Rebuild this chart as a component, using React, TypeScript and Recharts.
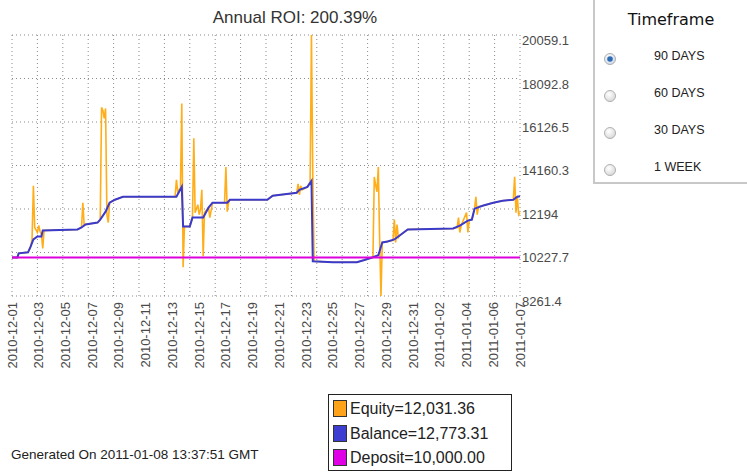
import React from "react";
import { LineChart, Line, XAxis, YAxis, CartesianGrid } from "recharts";

const TITLE = "Annual ROI: 200.39%";
const GENERATED = "Generated On 2011-01-08 13:37:51 GMT";

// date labels sit every 20 samples, the dotted grid every 19
const DATE_LABELS = [
    "2010-12-01", "2010-12-03", "2010-12-05", "2010-12-07", "2010-12-09",
    "2010-12-11", "2010-12-13", "2010-12-15", "2010-12-17", "2010-12-19",
    "2010-12-21", "2010-12-23", "2010-12-25", "2010-12-27", "2010-12-29",
    "2010-12-31", "2011-01-02", "2011-01-04", "2011-01-06", "2011-01-07",
];
const LABEL_STEP = 20;
const GRID_STEP = 19;
const GRID_LINES = 21;
const LAST_SAMPLE = 380;
const Y_TICKS = [8261.4, 10227.7, 12194, 14160.3, 16126.5, 18092.8, 20059.1];

const BALANCE_T = [
    0, 4, 5, 12, 14, 16, 19, 22, 23, 49, 52, 55, 64, 66, 70, 73, 77, 83, 123, 127,
    128, 133, 135, 143, 147, 150, 161, 163, 191, 195, 213, 215, 221, 224, 225, 240, 258, 263, 270, 274,
    277, 281, 286, 290, 296, 330, 335, 341, 344, 346, 352, 360, 367, 375, 378, 380,
];
const BALANCE = [
    10000, 10000, 10190, 10235, 10504, 10818, 10953, 10953, 11222, 11267, 11357, 11491, 11581, 11716, 12074, 12478, 12613, 12747, 12747, 13196,
    11401, 11401, 11805, 11805, 12254, 12478, 12478, 12613, 12613, 12792, 12927, 13062, 13196, 13465, 9831, 9787, 9787, 9876, 10011, 10101,
    10684, 10729, 10818, 10998, 11267, 11312, 11446, 11671, 11716, 12209, 12343, 12478, 12568, 12613, 12747, 12773.31,
];

const EQUITY_T = [
    0, 4, 5, 12, 14, 15, 16, 17, 19, 20, 21, 22, 23, 24, 49, 52, 53, 54, 55, 64,
    66, 67, 68, 69, 70, 71, 72, 73, 77, 83, 122, 123, 124, 126, 127, 128, 129, 133, 135, 136,
    137, 139, 140, 141, 142, 143, 144, 147, 148, 150, 159, 160, 161, 162, 163, 191, 195, 213, 214, 215,
    216, 217, 221, 223, 224, 225, 226, 240, 258, 263, 270, 271, 272, 273, 274, 275, 276, 277, 281, 285,
    286, 287, 288, 289, 290, 296, 330, 333, 334, 335, 336, 340, 341, 342, 344, 346, 347, 348, 349, 352,
    360, 367, 374, 375, 376, 377, 378, 379, 380,
];
const EQUITY = [
    10000, 10000, 10190, 10235, 10504, 10818, 13241, 11357, 11132, 11446, 11177, 11050, 10415, 11222, 11267, 11357, 12478, 11446, 11491, 11581,
    11716, 16785, 16650, 16291, 16740, 11940, 11581, 12478, 12613, 12747, 12747, 13510, 12972, 13151, 16964, 9562, 11401, 11401, 11805, 15394,
    12029, 12389, 11940, 12164, 13062, 10056, 12029, 12254, 11805, 12478, 12478, 14093, 12074, 12478, 12613, 12613, 12792, 12927, 13330, 12837,
    13241, 13062, 13196, 13420, 20059, 13735, 9831, 9787, 9787, 9876, 10011, 13645, 13286, 12972, 14093, 10818, 8261.4, 10684, 10729, 10773,
    11716, 10684, 11491, 10908, 10998, 11267, 11312, 11357, 11805, 11132, 11446, 12029, 11132, 11671, 11716, 12209, 12747, 11940, 12299, 12343,
    12478, 12568, 12613, 12613, 13645, 12029, 12747, 11940, 12031.36,
];

const DEPOSIT = 10000;

const SERIES = [
    { name: "Equity", color: "#FFA31A", last: "12,031.36" },
    { name: "Balance", color: "#3D3DD2", last: "12,773.31" },
    { name: "Deposit", color: "#E000E6", last: "10,000.00" },
];

const TIMEFRAMES = ["90 DAYS", "60 DAYS", "30 DAYS", "1 WEEK"];

const equityData = EQUITY_T.map((t, i) => ({ t, equity: EQUITY[i] }));
const balanceData = BALANCE_T.map((t, i) => ({ t, balance: BALANCE[i] }));
const depositData = [{ t: 0, deposit: DEPOSIT }, { t: LAST_SAMPLE, deposit: DEPOSIT }];

const labelTicks = DATE_LABELS.map((_, i) => i * LABEL_STEP);
const gridTicks = Array.from({ length: GRID_LINES }, (_, i) => i * GRID_STEP);

const FONT = "'Liberation Sans', Arial, sans-serif";

// vertical dotted lines don't follow the date labels, so place them from the sample scale
function gridX({ xAxis, offset }: any) {
    return gridTicks.map(t =>
        typeof xAxis?.scale === "function" ? xAxis.scale(t) : offset.left + (t / LAST_SAMPLE) * offset.width);
}

function DateTick({ x, y, index }: any) {
    return (
        <text x={x} y={y} dy={4.5} transform={`rotate(-90, ${x}, ${y})`} textAnchor="end"
            fontSize={13} fill="#4a4a4a" fontFamily={FONT}>
            {DATE_LABELS[index]}
        </text>
    );
}

function ValueTick({ x, y, payload }: any) {
    return (
        <text x={x} y={y + 10} textAnchor="start" fontSize={13} fill="#4a4a4a" fontFamily={FONT}>
            {String(payload.value)}
        </text>
    );
}

function Radio({ checked }: { checked: boolean }) {
    return (
        <svg width={14} height={14}>
            <defs>
                <radialGradient id={checked ? "rOn" : "rOff"} cx="40%" cy="35%" r="70%">
                    <stop offset="0%" stopColor="#ffffff" />
                    <stop offset="100%" stopColor={checked ? "#c9d6e6" : "#d6d6d6"} />
                </radialGradient>
            </defs>
            <circle cx={7} cy={7} r={5.5} fill={`url(#${checked ? "rOn" : "rOff"})`} stroke="#b0b0b0" />
            {checked && <circle cx={7} cy={7} r={2.8} fill="#2d6bb5" />}
        </svg>
    );
}

export default function App() {
    return (
        <div style={{ position: "absolute", left: 0, top: 0, width: 747, height: 473, background: "#fff", fontFamily: FONT }}>
            <div style={{ position: "absolute", left: 0, top: 8, width: 590, textAlign: "center", fontSize: 17, color: "#333" }}>
                {TITLE}
            </div>

            <div style={{ position: "absolute", left: 0, top: 0 }}>
                <LineChart width={590} height={380} margin={{ top: 35, right: 10, bottom: 8, left: 12 }}>
                    <XAxis xAxisId="date" type="number" dataKey="t" domain={[0, LAST_SAMPLE]} ticks={labelTicks}
                        interval={0} tick={<DateTick />} tickLine={false} axisLine={false} tickSize={0} tickMargin={6} height={76} />
                    <YAxis orientation="right" type="number" domain={[Y_TICKS[0], Y_TICKS[Y_TICKS.length - 1]]} ticks={Y_TICKS}
                        interval={0} tick={<ValueTick />} tickLine={false} axisLine={false} tickSize={0} tickMargin={2} width={60} allowDataOverflow />
                    <CartesianGrid xAxisId="date" stroke="#8a8a8a" strokeDasharray="1 3" verticalCoordinatesGenerator={gridX} />
                    <Line xAxisId="date" data={equityData} dataKey="equity" type="linear" stroke="#FFA500" strokeWidth={1.6}
                        strokeOpacity={0.9} dot={false} isAnimationActive={false} />
                    <Line xAxisId="date" data={balanceData} dataKey="balance" type="linear" stroke="#3B3BCB" strokeWidth={2}
                        dot={false} isAnimationActive={false} />
                    <Line xAxisId="date" data={depositData} dataKey="deposit" type="linear" stroke="#DD00DD" strokeWidth={2}
                        dot={false} isAnimationActive={false} />
                </LineChart>
            </div>

            <div style={{ position: "absolute", left: 328, top: 394, width: 184, height: 77, border: "1px solid #222", boxSizing: "border-box" }}>
                {SERIES.map((s, i) => (
                    <div key={s.name} style={{ position: "absolute", left: 4, top: 5 + i * 24.5, display: "flex", alignItems: "center" }}>
                        <div style={{ width: 14, height: 17, background: s.color, border: "1px solid #333", boxSizing: "border-box" }} />
                        <span style={{ marginLeft: 3, fontSize: 16, lineHeight: "17px", color: "#222" }}>{s.name}={s.last}</span>
                    </div>
                ))}
            </div>

            <div style={{ position: "absolute", left: 11, top: 447, fontSize: 13.5, color: "#222" }}>{GENERATED}</div>

            <div style={{ position: "absolute", left: 593, top: 0, width: 154, height: 184, borderLeft: "2px solid #c8c8c8",
                borderBottom: "2px solid #c8c8c8", boxSizing: "border-box", background: "#fff" }}>
                <div style={{ position: "absolute", left: 0, top: 10, width: 152, textAlign: "center", fontFamily: "'DejaVu Sans', sans-serif", fontSize: 16, color: "#111" }}>
                    Timeframe
                </div>
                {TIMEFRAMES.map((label, i) => (
                    <React.Fragment key={label}>
                        <div style={{ position: "absolute", left: 8, top: 52 + i * 37, lineHeight: 0 }}>
                            <Radio checked={i === 0} />
                        </div>
                        <div style={{ position: "absolute", left: 59, top: 49 + i * 37, fontSize: 12.5, color: "#222" }}>{label}</div>
                    </React.Fragment>
                ))}
            </div>
        </div>
    );
}
